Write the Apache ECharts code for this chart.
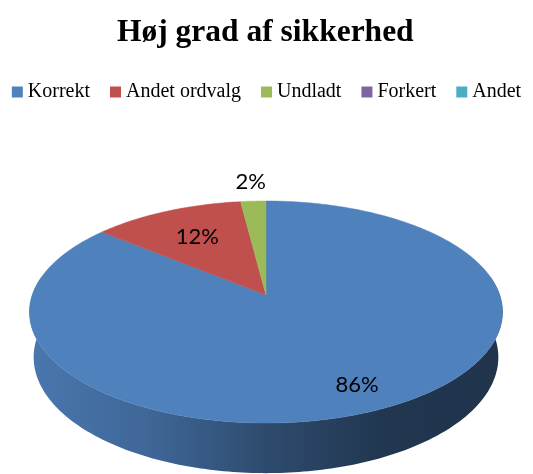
<!DOCTYPE html>
<html>
<head>
<meta charset="utf-8">
<script src="https://cdn.jsdelivr.net/npm/echarts@6/dist/echarts.min.js"></script>
<style>
html,body{margin:0;padding:0;background:#fff;}
#chart{width:533px;height:474px;}
</style>
</head>
<body>
<div id="chart"></div>
<script>
var categories = ['Korrekt', 'Andet ordvalg', 'Undladt', 'Forkert', 'Andet'];
var shares = [86, 12, 2, 0, 0];
var colors = ['#4f81bd', '#c0504d', '#9bbb59', '#8064a2', '#4bacc6'];

// perspective of the tilted disc (screen apex, focal length, distance, tilt, thickness)
var X0 = 266, Y0 = 295, F = 1351, D = 5.78, SA = 0.4638, CA = 0.886, H = 0.22;

function proj(deg, r, z) {
    var a = deg * Math.PI / 180;
    var u = r * Math.sin(a), v = r * Math.cos(a);
    var Y = v * SA + z * CA, Z = D + v * CA - z * SA;
    return [X0 + F * u / Z, Y0 - F * Y / Z];
}

function shade(hex, f) {
    var n = parseInt(hex.slice(1), 16);
    var r = Math.round(((n >> 16) & 255) * f), g = Math.round(((n >> 8) & 255) * f), b = Math.round((n & 255) * f);
    return 'rgb(' + r + ',' + g + ',' + b + ')';
}

var total = 0;
for (var i = 0; i < shares.length; i++) total += shares[i];
var startAngles = [];
var acc = 0;
for (var i = 0; i < shares.length; i++) {
    startAngles.push(acc / total * 360);
    acc += shares[i];
}

function arc(a0, a1, r, z) {
    var pts = [];
    for (var a = a0; a < a1; a += 1) pts.push(proj(a, r, z));
    pts.push(proj(a1, r, z));
    return pts;
}

function renderSide(params, api) {
    var i = params.dataIndex;
    var val = api.value(0);
    if (!val) return null;
    var a0 = Math.max(startAngles[i], 80), a1 = Math.min(startAngles[i] + val / total * 360, 280);
    if (a1 <= a0) return null;
    var pts = arc(a0, a1, 1, 0).concat(arc(a0, a1, 1, -H).reverse());
    var c = colors[i];
    return {
        type: 'polygon',
        shape: { points: pts },
        style: {
            fill: {
                type: 'linear', x: 30, y: 0, x2: 503, y2: 0, global: true,
                colorStops: [
                    { offset: 0, color: shade(c, 0.92) },
                    { offset: 0.25, color: shade(c, 0.8) },
                    { offset: 0.5, color: shade(c, 0.58) },
                    { offset: 0.75, color: shade(c, 0.42) },
                    { offset: 1, color: shade(c, 0.4) }
                ]
            }
        }
    };
}

function renderTop(params, api) {
    var i = params.dataIndex;
    var val = api.value(0);
    if (!val) return null;
    var a0 = startAngles[i], a1 = a0 + val / total * 360;
    var pts = [proj(0, 0, 0)].concat(arc(a0, a1, 1, 0));
    var mid = (a0 + a1) / 2;
    var frac = val / total;
    var pct = Math.round(frac * 100);
    // small slices get their label outside, the rest inside
    var lp = pct < 5 ? proj(mid, 1.25, 0) : proj(mid, 0.64 + 0.2 * frac, 0);
    return {
        type: 'group',
        children: [{
            type: 'polygon',
            shape: { points: pts },
            style: { fill: colors[i], stroke: colors[i], lineWidth: 0.5 }
        }, {
            type: 'text',
            x: lp[0], y: lp[1],
            style: {
                text: pct + '%', fill: '#000',
                fontFamily: 'Lato', fontSize: 22,
                align: 'center', verticalAlign: 'middle'
            }
        }]
    };
}

var chart = echarts.init(document.getElementById('chart'));
var seriesData = [];
for (var i = 0; i < categories.length; i++) seriesData.push({ name: categories[i], value: shares[i] });

option = {
    color: colors,
    animation: false,
    title: {
        text: 'Høj grad af sikkerhed',
        left: 112,
        top: 12,
        textStyle: { fontFamily: '"Liberation Serif", "Times New Roman", serif', fontWeight: 'bold', fontSize: 31.5, color: '#000' }
    },
    legend: {
        data: categories,
        top: 77,
        left: 'center',
        icon: 'rect',
        itemWidth: 11,
        itemHeight: 11,
        itemGap: 20,
        textStyle: { fontFamily: '"Liberation Serif", "Times New Roman", serif', fontSize: 20, color: '#000' }
    },
    series: [
        {   // only feeds the legend
            name: 'legend',
            type: 'pie',
            radius: [0, 0],
            silent: true,
            label: { show: false },
            labelLine: { show: false },
            data: seriesData
        },
        {
            name: 'side',
            type: 'custom',
            coordinateSystem: 'none',
            z: 1,
            silent: true,
            renderItem: renderSide,
            data: seriesData
        },
        {
            name: 'top',
            type: 'custom',
            coordinateSystem: 'none',
            z: 2,
            silent: true,
            renderItem: renderTop,
            data: seriesData
        }
    ]
};

chart.setOption(option);
</script>
</body>
</html>
